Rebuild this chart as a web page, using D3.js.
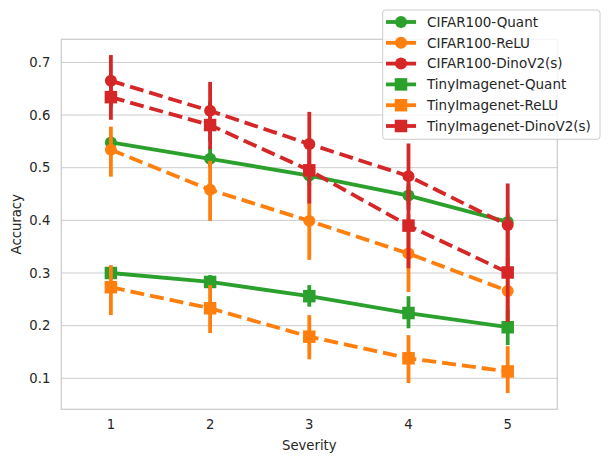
<!DOCTYPE html>
<html>
<head>
<meta charset="utf-8">
<script src="https://cdn.jsdelivr.net/npm/d3@7"></script>
<style>
  html, body { margin: 0; padding: 0; background: #fff; }
  svg { display: block; font-family: "DejaVu Sans", sans-serif; }
</style>
</head>
<body>
<svg id="chart" width="610" height="462"></svg>
<script>
// ---- data ----
const severities = ["1", "2", "3", "4", "5"];
const yTicks = [0.1, 0.2, 0.3, 0.4, 0.5, 0.6, 0.7];
const seriesNames = ["CIFAR100-Quant", "CIFAR100-ReLU", "CIFAR100-DinoV2(s)",
                     "TinyImagenet-Quant", "TinyImagenet-ReLU", "TinyImagenet-DinoV2(s)"];
const seriesColors = ["#2ca02c", "#ff7f0e", "#d62728", "#2ca02c", "#ff7f0e", "#d62728"];
const seriesMarkers = ["circle", "circle", "circle", "square", "square", "square"];
const seriesDashed = [false, true, true, false, true, true];

const cifarQuant     = [0.548, 0.517, 0.485, 0.447, 0.397];
const cifarQuantLo   = [0.540, 0.500, 0.465, 0.430, 0.380];
const cifarQuantHi   = [0.556, 0.540, 0.505, 0.465, 0.412];

const cifarRelu      = [0.534, 0.458, 0.399, 0.337, 0.266];
const cifarReluLo    = [0.483, 0.399, 0.325, 0.264, 0.210];
const cifarReluHi    = [0.578, 0.513, 0.470, 0.410, 0.330];

const cifarDino      = [0.665, 0.608, 0.545, 0.484, 0.391];
const cifarDinoLo    = [0.615, 0.550, 0.480, 0.420, 0.310];
const cifarDinoHi    = [0.714, 0.663, 0.606, 0.546, 0.470];

const tinyQuant      = [0.300, 0.283, 0.256, 0.224, 0.197];
const tinyQuantLo    = [0.290, 0.270, 0.236, 0.195, 0.163];
const tinyQuantHi    = [0.310, 0.296, 0.277, 0.256, 0.230];

const tinyRelu       = [0.273, 0.233, 0.179, 0.138, 0.113];
const tinyReluLo     = [0.220, 0.186, 0.136, 0.091, 0.072];
const tinyReluHi     = [0.315, 0.277, 0.220, 0.182, 0.161];

const tinyDino       = [0.634, 0.581, 0.495, 0.390, 0.301];
const tinyDinoLo     = [0.591, 0.535, 0.432, 0.309, 0.207];
const tinyDinoHi     = [0.675, 0.625, 0.555, 0.470, 0.390];

const seriesMeans = [cifarQuant, cifarRelu, cifarDino, tinyQuant, tinyRelu, tinyDino];
const seriesLo    = [cifarQuantLo, cifarReluLo, cifarDinoLo, tinyQuantLo, tinyReluLo, tinyDinoLo];
const seriesHi    = [cifarQuantHi, cifarReluHi, cifarDinoHi, tinyQuantHi, tinyReluHi, tinyDinoHi];

// ---- layout ----
const svg = d3.select("#chart");
const pLeft = 61.3, pRight = 557.3, pTop = 39.3, pBottom = 409.3;
const textColor = "#262626";
const gridColor = "#cccccc";

const x = d3.scaleBand().domain(severities).range([pLeft, pRight]).padding(0);
const xc = d => x(d) + x.bandwidth() / 2;
const y = d3.scaleLinear().domain([0.0411, 0.7439]).range([pBottom, pTop]);

// grid
svg.append("g").selectAll("line").data(yTicks).join("line")
  .attr("x1", pLeft).attr("x2", pRight)
  .attr("y1", d => y(d)).attr("y2", d => y(d))
  .attr("stroke", gridColor).attr("stroke-width", 1);

// spines
svg.append("rect").attr("x", pLeft).attr("y", pTop)
  .attr("width", pRight - pLeft).attr("height", pBottom - pTop)
  .attr("fill", "none").attr("stroke", gridColor).attr("stroke-width", 1.25);

// axes
const yAxis = d3.axisLeft(y).tickValues(yTicks).tickFormat(d3.format(".1f")).tickSize(0).tickPadding(11);
const gy = svg.append("g").attr("transform", `translate(${pLeft},0)`).call(yAxis);
gy.select(".domain").remove();
gy.selectAll("text").attr("fill", textColor).style("font-size", "13.2px").style("font-family", "DejaVu Sans");

const xAxis = d3.axisBottom(x).tickSize(0).tickPadding(10.5);
const gx = svg.append("g").attr("transform", `translate(0,${pBottom})`).call(xAxis);
gx.select(".domain").remove();
gx.selectAll("text").attr("fill", textColor).style("font-size", "13.2px").style("font-family", "DejaVu Sans");

svg.append("text").attr("x", (pLeft + pRight) / 2).attr("y", 450)
  .attr("text-anchor", "middle").attr("fill", textColor)
  .style("font-size", "13.2px").text("Severity");
svg.append("text").attr("transform", `translate(21,${(pTop + pBottom) / 2}) rotate(-90)`)
  .attr("text-anchor", "middle").attr("fill", textColor)
  .style("font-size", "13.2px").text("Accuracy");

// series
const lw = 3.8;
function drawMarker(g, type, cx, cy, color, size) {
  if (type === "circle") {
    g.append("circle").attr("cx", cx).attr("cy", cy).attr("r", size / 2).attr("fill", color);
  } else {
    g.append("rect").attr("x", cx - size / 2).attr("y", cy - size / 2)
      .attr("width", size).attr("height", size).attr("fill", color);
  }
}
const line = d3.line().x((d, i) => xc(severities[i])).y(d => y(d));

seriesNames.forEach((name, s) => {
  const g = svg.append("g");
  const color = seriesColors[s];
  g.append("path").attr("d", line(seriesMeans[s]))
    .attr("fill", "none").attr("stroke", color).attr("stroke-width", lw)
    .attr("stroke-dasharray", seriesDashed[s] ? "14,6" : null);
  g.selectAll("line.err").data(severities).join("line").attr("class", "err")
    .attr("x1", d => xc(d)).attr("x2", d => xc(d))
    .attr("y1", (d, i) => y(seriesLo[s][i])).attr("y2", (d, i) => y(seriesHi[s][i]))
    .attr("stroke", color).attr("stroke-width", lw);
  severities.forEach((c, i) => {
    drawMarker(g, seriesMarkers[s], xc(c), y(seriesMeans[s][i]), color,
      seriesMarkers[s] === "circle" ? 12 : 12.5);
  });
});

// legend
const lg = svg.append("g");
lg.append("rect").attr("x", 382.7).attr("y", 10).attr("width", 217.3).attr("height", 129.3)
  .attr("rx", 3).attr("fill", "#ffffff").attr("fill-opacity", 0.8)
  .attr("stroke", gridColor).attr("stroke-width", 1);
seriesNames.forEach((name, s) => {
  const cy = 22 + s * 20.8;
  lg.append("line").attr("x1", 386).attr("x2", 416).attr("y1", cy).attr("y2", cy)
    .attr("stroke", seriesColors[s]).attr("stroke-width", lw);
  drawMarker(lg, seriesMarkers[s], 401, cy, seriesColors[s], seriesMarkers[s] === "circle" ? 12 : 12.5);
  lg.append("text").attr("x", 427).attr("y", cy).attr("dy", "0.36em")
    .attr("fill", textColor).style("font-size", "13.5px").text(name);
});
</script>
</body>
</html>
